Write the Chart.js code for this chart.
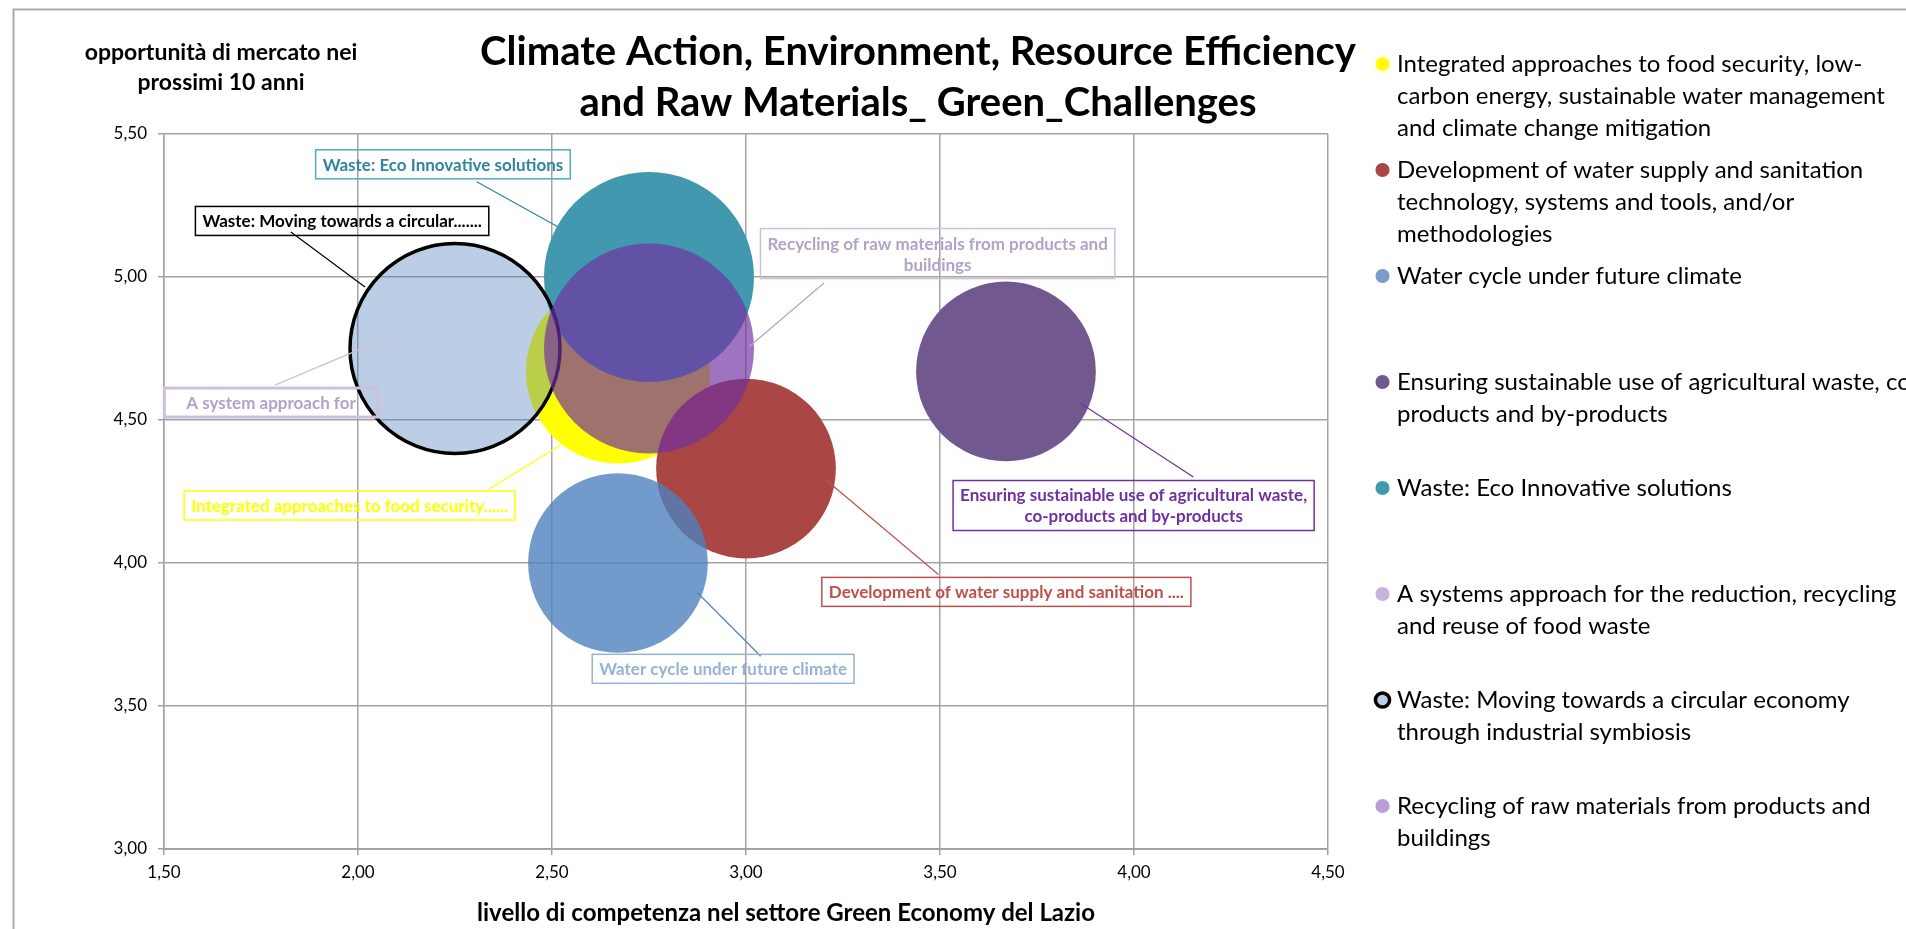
<!DOCTYPE html>
<html lang="it">
<head>
<meta charset="UTF-8">
<title>Green Challenges</title>
<script src="https://cdn.jsdelivr.net/npm/chart.js"></script>
<style>
    html, body { margin: 0; padding: 0; background: #fff; overflow: hidden; }
    #wrap { width: 1906px; height: 929px; }
</style>
</head>
<body>
<div id="wrap"><canvas id="mychart"></canvas></div>
<script>
    // series (legend order)
    const series = [
        'Integrated approaches to food security, low-carbon energy, sustainable water management and climate change mitigation',
        'Development of water supply and sanitation technology, systems and tools, and/or methodologies',
        'Water cycle under future climate',
        'Ensuring sustainable use of agricultural waste, co-products and by-products',
        'Waste: Eco Innovative solutions',
        'A systems approach for the reduction, recycling and reuse of food waste',
        'Waste: Moving towards a circular economy through industrial symbiosis',
        'Recycling of raw materials from products and buildings'
    ];
    const legendLines = [
        ['Integrated approaches to food security, low-', 'carbon energy, sustainable water management', 'and climate change mitigation'],
        ['Development of water supply and sanitation', 'technology, systems and tools, and/or', 'methodologies'],
        ['Water cycle under future climate', '', ''],
        ['Ensuring sustainable use of agricultural waste, co-', 'products and by-products', ''],
        ['Waste: Eco Innovative solutions', '', ''],
        ['A systems approach for the reduction, recycling', 'and reuse of food waste', ''],
        ['Waste: Moving towards a circular economy', 'through industrial symbiosis', ''],
        ['Recycling of raw materials from products and', 'buildings', '']
    ];
    const competenza  = [2.67, 3.00, 2.67, 3.67, 2.75, 2.25, 2.25, 2.75];
    const opportunita = [4.67, 4.33, 4.00, 4.67, 5.00, 4.75, 4.75, 4.75];
    const bubbleSize  = [3.33, 3.17, 3.17, 3.17, 4.33, 4.33, 4.33, 4.33];

    const xTickLabels = ['1,50', '2,00', '2,50', '3,00', '3,50', '4,00', '4,50'];
    const yTickLabels = ['3,00', '3,50', '4,00', '4,50', '5,00', '5,50'];

    const fills = ['#ffff00', '#aa4643', 'rgba(79,129,189,0.8)', '#71588f', '#4198af',
                   'rgba(0,0,0,0)', 'rgba(79,129,189,0.39)', 'rgba(112,48,160,0.68)'];
    const legendFills = ['#ffff00', '#aa4643', '#7a9ccb', '#71588f', '#4198af', '#c6b4dc', '#b9cde5', '#b99dd5'];
    const borderW = [0, 0, 0, 0, 0, 0, 3.5, 0];
    // higher order is painted first
    const drawOrder = [7, 6, 5, 4, 3, 8, 2, 1];

    const maxRadius = 105;
    const maxSize = Math.max(...bubbleSize);

    // data labels with leader lines, placed in axis units
    const callouts = [
        {lines: ['Waste: Eco Innovative solutions'], at: [2.219, 5.394], from: [2.306, 5.333], to: [2.515, 5.176],
         color: '#31859c', border: '#4bacc6', line: '#31859c'},
        {lines: ['Waste: Moving towards a circular.......'], at: [1.959, 5.196], from: [1.827, 5.157], to: [2.018, 4.965],
         color: '#000', border: '#000', line: '#000'},
        {lines: ['Recycling of raw materials from products and', 'buildings'], at: [3.494, 5.082], from: [3.201, 4.979], to: [3.008, 4.756],
         color: '#b3a2c7', border: '#ccc0da', line: '#b3a2c7'},
        {lines: ['A system approach for'], at: [1.776, 4.561], from: [1.786, 4.622], to: [2.075, 4.787],
         color: '#b3a2c7', border: '#ccc0da', line: '#ccc0da', bw: 3, extra: 30},
        {lines: ['Integrated approaches to food security......'], at: [1.978, 4.201], from: [2.338, 4.259], to: [2.522, 4.412],
         color: '#ffff00', border: '#ffff00', line: '#ffff00'},
        {lines: ['Water cycle under future climate'], at: [2.941, 3.630], from: [3.038, 3.674], to: [2.875, 3.896],
         color: '#95b3d7', border: '#95b3d7', line: '#4f81bd'},
        {lines: ['Development of water supply and sanitation ....'], at: [3.671, 3.899], from: [3.496, 3.960], to: [3.204, 4.293],
         color: '#c0504d', border: '#c0504d', line: '#c0504d'},
        {lines: ['Ensuring sustainable use of agricultural waste,', 'co-products and by-products'], at: [3.999, 4.201], from: [4.153, 4.301], to: [3.863, 4.558],
         color: '#7030a0', border: '#7030a0', line: '#7030a0'}
    ];

    const gridGray = '#a3a3a3';
    Chart.defaults.font.family = 'Lato';

    const decor = {
        id: 'decor',
        beforeDraw(chart) {
            const ctx = chart.ctx;
            ctx.save();
            ctx.strokeStyle = '#ababab';
            ctx.lineWidth = 2;
            ctx.beginPath();
            ctx.moveTo(13.5, chart.height);
            ctx.lineTo(13.5, 9.5);
            ctx.lineTo(chart.width, 9.5);
            ctx.stroke();
            ctx.restore();
        },
        afterDatasetsDraw(chart) {
            const {ctx, chartArea: a} = chart;
            const sx = chart.scales.x, sy = chart.scales.y;
            ctx.save();
            ctx.font = 'bold 17px Lato';
            ctx.textAlign = 'center';
            ctx.textBaseline = 'middle';
            callouts.forEach(c => {
                ctx.strokeStyle = c.line;
                ctx.lineWidth = 1.2;
                ctx.beginPath();
                ctx.moveTo(sx.getPixelForValue(c.from[0]), sy.getPixelForValue(c.from[1]));
                ctx.lineTo(sx.getPixelForValue(c.to[0]), sy.getPixelForValue(c.to[1]));
                ctx.stroke();

                const cx = sx.getPixelForValue(c.at[0]);
                const cy = sy.getPixelForValue(c.at[1]);
                const w = Math.max(...c.lines.map(l => ctx.measureText(l).width)) + 14 + (c.extra || 0);
                const h = c.lines.length * 21 + 8;
                ctx.strokeStyle = c.border;
                ctx.lineWidth = c.bw || 1.5;
                ctx.strokeRect(cx - w / 2, cy - h / 2, w, h);
                ctx.fillStyle = c.color;
                c.lines.forEach((l, i) => {
                    ctx.fillText(l, cx, cy - (c.lines.length - 1) * 10.5 + i * 21 + 1);
                });
            });

            // axis titles
            ctx.fillStyle = '#000';
            ctx.textBaseline = 'alphabetic';
            ctx.font = 'bold 23px Lato';
            ctx.fillText('opportunità di mercato nei', a.left + 57, a.top - 74);
            ctx.fillText('prossimi 10 anni', a.left + 57, a.top - 44);
            ctx.font = 'bold 24px Lato';
            ctx.fillText('livello di competenza nel settore Green Economy del Lazio', a.left + 622, a.bottom + 72);
            ctx.restore();
        }
    };

    const setting = {
        type: 'bubble',
        data: {
            datasets: series.map((name, i) => ({
                label: name,
                data: [{x: competenza[i], y: opportunita[i], r: maxRadius * Math.sqrt(bubbleSize[i] / maxSize)}],
                backgroundColor: fills[i],
                borderColor: borderW[i] > 0 ? '#000' : 'rgba(0,0,0,0)',
                borderWidth: borderW[i],
                hoverRadius: 0,
                order: drawOrder[i],
                yAxisID: 'y'
            }))
        },
        options: {
            responsive: true,
            maintainAspectRatio: false,
            animation: false,
            events: [],
            // negative left padding moves the centre of the title to the left
            layout: {autoPadding: false, padding: {top: 13, right: 0, bottom: 0, left: -70}},
            scales: {
                x: {
                    type: 'linear',
                    position: 'bottom',
                    min: 1.5,
                    max: 4.5,
                    ticks: {
                        stepSize: 0.5,
                        padding: 7,
                        color: '#000',
                        font: {size: 17},
                        callback: (v, i) => xTickLabels[i]
                    },
                    grid: {color: gridGray, lineWidth: 1.5, tickLength: 6, tickColor: gridGray},
                    border: {color: gridGray, width: 2},
                    afterFit: s => { s.height = 80; }
                },
                y: {
                    type: 'linear',
                    position: 'left',
                    min: 3,
                    max: 5.5,
                    ticks: {
                        stepSize: 0.5,
                        padding: 11,
                        color: '#000',
                        font: {size: 17},
                        callback: (v, i) => yTickLabels[i]
                    },
                    grid: {color: gridGray, lineWidth: 1.5, tickLength: 6, tickColor: gridGray},
                    border: {color: gridGray, width: 1.5},
                    afterFit: s => { s.width = 234; }
                },
                // gap between plot and legend
                y2: {
                    type: 'linear',
                    position: 'right',
                    ticks: {display: false},
                    grid: {display: false},
                    border: {display: false},
                    afterFit: s => { s.width = 42; }
                }
            },
            plugins: {
                title: {
                    display: true,
                    text: ['Climate Action, Environment, Resource Efficiency', 'and Raw Materials_ Green_Challenges'],
                    color: '#000',
                    font: {size: 40, weight: 'bold', lineHeight: '51px'},
                    padding: {top: 13.5, bottom: 5.5}
                },
                legend: {
                    position: 'right',
                    align: 'center',
                    maxWidth: 536,
                    labels: {
                        color: '#000',
                        font: {size: 24, lineHeight: '32px'},
                        usePointStyle: true,
                        boxWidth: 5,
                        boxHeight: 10,
                        padding: 10,
                        sort: (a, b) => a.datasetIndex - b.datasetIndex,
                        generateLabels(chart) {
                            const items = Chart.defaults.plugins.legend.labels.generateLabels(chart);
                            items.forEach(it => {
                                it.text = legendLines[it.datasetIndex];
                                it.fillStyle = legendFills[it.datasetIndex];
                            });
                            return items;
                        }
                    }
                },
                tooltip: {enabled: false}
            }
        },
        plugins: [decor]
    };

    new Chart(document.getElementById('mychart'), setting);
</script>
</body>
</html>
